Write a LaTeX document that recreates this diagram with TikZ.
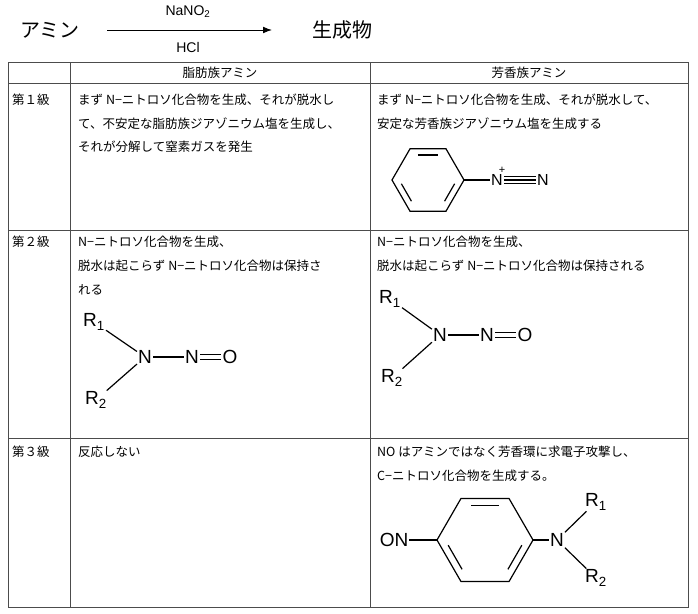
\documentclass[tikz,border=0pt]{standalone}
\usepackage{fontspec}
\setmainfont{Liberation Serif}
\newfontfamily\jp{Noto Sans CJK JP}
\newfontfamily\ar{Liberation Sans}
\usetikzlibrary{arrows.meta,calc}
\begin{document}
\begin{tikzpicture}[x=1pt,y=-1pt,
  cell/.style={anchor=west,font=\jp\fontsize{12.5}{14}\selectfont,inner sep=0},
  chem/.style={font=\ar\fontsize{19}{21}\selectfont,inner sep=1pt},
  bond/.style={line width=1.2pt},
  grid/.style={line width=0.6pt,draw=black!70}]
\useasboundingbox (0,0) rectangle (698,613);
\node[font=\jp\fontsize{20}{22}\selectfont] (am) at (50,30) {アミン};
\coordinate (a1) at (107,30); \coordinate (a2) at (272,30);
\draw[line width=0.9pt,-{Latex[length=9pt]}] (a1) -- (a2);
\node[font=\ar\fontsize{14}{16}\selectfont] (na) at (188,12) {NaNO\textsubscript{2}};
\node[font=\ar\fontsize{14}{16}\selectfont] (hcl) at (188,47) {HCl};
\node[font=\jp\fontsize{20}{22}\selectfont] (pr) at (342,30) {生成物};
% table
\draw[grid] (8,62) rectangle (688,607);
\foreach \y in {83,230,438} \draw[grid] (8,\y) -- (688,\y);
\draw[grid] (70,62) -- (70,607); \draw[grid] (370,62) -- (370,607);
\node[cell,anchor=center] (h1) at (220,73) {脂肪族アミン};
\node[cell,anchor=center] (h2) at (529,73) {芳香族アミン};
\node[cell] (r1) at (12,100) {第１級};
\node[cell] (r2) at (12,242) {第２級};
\node[cell] (r3) at (12,452) {第３級};
\node[cell] (t11) at (78,100) {まず N−ニトロソ化合物を生成、それが脱水し};
\node[cell] (t12) at (78,124) {て、不安定な脂肪族ジアゾニウム塩を生成し、};
\node[cell] (t13) at (78,147) {それが分解して窒素ガスを発生};
\node[cell] (t14) at (377,100) {まず N−ニトロソ化合物を生成、それが脱水して、};
\node[cell] (t15) at (377,124) {安定な芳香族ジアゾニウム塩を生成する};
\node[cell] (t21) at (78,242) {N−ニトロソ化合物を生成、};
\node[cell] (t22) at (78,266) {脱水は起こらず N−ニトロソ化合物は保持さ};
\node[cell] (t23) at (78,290) {れる};
\node[cell] (t24) at (377,242) {N−ニトロソ化合物を生成、};
\node[cell] (t25) at (377,266) {脱水は起こらず N−ニトロソ化合物は保持される};
\node[cell] (t31) at (78,452) {反応しない};
\node[cell] (t32) at (377,452) {NO はアミンではなく芳香環に求電子攻撃し、};
\node[cell] (t33) at (377,476) {C−ニトロソ化合物を生成する。};
% benzene diazonium
\coordinate (bc) at (428,180);
\foreach \i in {0,...,5} \coordinate (b\i) at ($(bc)+(\i*60:36)$);
\draw[bond] (b0)--(b1)--(b2)--(b3)--(b4)--(b5)--cycle;
\foreach \i/\j in {4/5,0/1,2/3} \draw[bond] ($(bc)!0.8!(b\i)!0.15!($(bc)!0.8!(b\j)$)$) -- ($(bc)!0.8!(b\j)!0.15!($(bc)!0.8!(b\i)$)$);
\node[chem,font=\ar\fontsize{16}{18}\selectfont] (n1) at (497,180) {N};
\node[font=\ar\fontsize{11}{12}\selectfont] (pl) at (502,170) {+};
\node[chem,font=\ar\fontsize{16}{18}\selectfont] (n2) at (543,180) {N};
\draw[bond] (b0) -- (n1);
\foreach \d in {-3.5,0,3.5} \draw[bond] ([yshift=\d]n1.east) -- ([yshift=\d]n2.west);
% row2 left
\node[chem] (ra1) at (94,322) {R\textsubscript{1}};
\node[chem] (na1) at (145,357) {N};
\node[chem] (na2) at (192,357) {N};
\node[chem] (oa) at (230,357) {O};
\node[chem] (ra2) at (96,400) {R\textsubscript{2}};
\draw[bond] (ra1) -- (na1); \draw[bond] (ra2) -- (na1);
\draw[bond] (na1) -- (na2);
\draw[bond] ([yshift=-2.5]na2.east) -- ([yshift=-2.5]oa.west);
\draw[bond] ([yshift=2.5]na2.east) -- ([yshift=2.5]oa.west);
% row2 right
\node[chem] (rb1) at (390,299) {R\textsubscript{1}};
\node[chem] (nb1) at (440,335) {N};
\node[chem] (nb2) at (487,335) {N};
\node[chem] (ob) at (525,335) {O};
\node[chem] (rb2) at (392,378) {R\textsubscript{2}};
\draw[bond] (rb1) -- (nb1); \draw[bond] (rb2) -- (nb1);
\draw[bond] (nb1) -- (nb2);
\draw[bond] ([yshift=-2.5]nb2.east) -- ([yshift=-2.5]ob.west);
\draw[bond] ([yshift=2.5]nb2.east) -- ([yshift=2.5]ob.west);
% row3
\coordinate (cc) at (485,540);
\foreach \i in {0,...,5} \coordinate (c\i) at ($(cc)+(\i*60:48)$);
\draw[bond] (c0)--(c1)--(c2)--(c3)--(c4)--(c5)--cycle;
\foreach \i/\j in {4/5,0/1,2/3} \draw[bond] ($(cc)!0.83!(c\i)!0.15!($(cc)!0.83!(c\j)$)$) -- ($(cc)!0.83!(c\j)!0.15!($(cc)!0.83!(c\i)$)$);
\node[chem] (on) at (394,540) {ON};
\node[chem] (nc) at (557,540) {N};
\node[chem] (rc1) at (596,502) {R\textsubscript{1}};
\node[chem] (rc2) at (596,578) {R\textsubscript{2}};
\draw[bond] (on) -- (c3); \draw[bond] (c0) -- (nc);
\draw[bond] (nc) -- (rc1); \draw[bond] (nc) -- (rc2);
\end{tikzpicture}
\end{document}
